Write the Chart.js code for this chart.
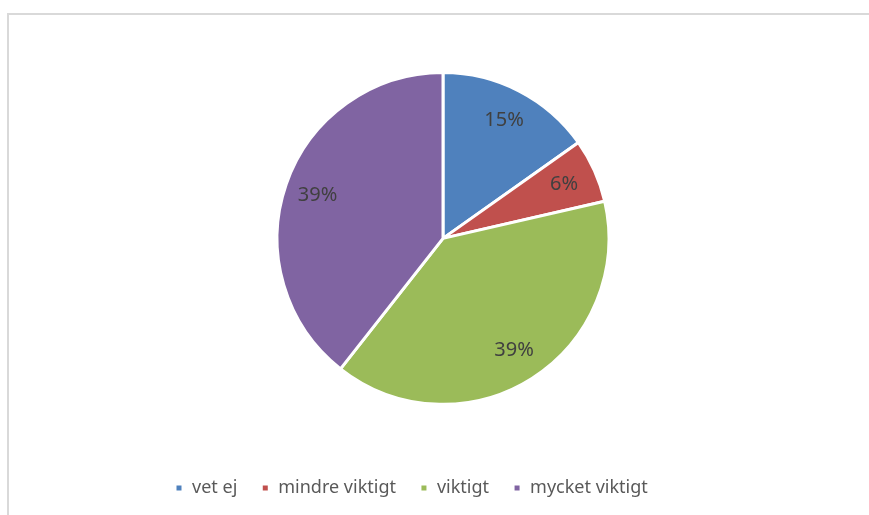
<!DOCTYPE html>
<html>
<head>
<meta charset="utf-8">
<script src="https://cdn.jsdelivr.net/npm/chart.js@4"></script>
<style>
  html, body { margin: 0; padding: 0; background: #fff; }
  .wrap { position: relative; width: 869px; height: 515px; overflow: hidden; }
  .frame { position: absolute; left: 7px; top: 13px; width: 900px; height: 600px;
           border-top: 2px solid #d9d9d9; border-left: 2px solid #d9d9d9; }
  canvas { position: absolute; left: 0; top: 0; }
</style>
</head>
<body>
<div class="wrap">
  <div class="frame"></div>
  <canvas id="pie" width="869" height="515"></canvas>
</div>
<script>
const categories = ['vet ej', 'mindre viktigt', 'viktigt', 'mycket viktigt'];
const shares = [15.2, 6.2, 39.2, 39.4];
const shareLabels = ['15%', '6%', '39%', '39%'];
const colors = ['#4f81bd', '#c0504d', '#9bbb59', '#8064a2'];

// percent labels inside each slice
const sliceLabels = {
  id: 'sliceLabels',
  afterDatasetsDraw(chart) {
    const ctx = chart.ctx;
    const arcs = chart.getDatasetMeta(0).data;
    ctx.save();
    ctx.font = '20px "Noto Sans", sans-serif';
    ctx.fillStyle = '#404040';
    ctx.textAlign = 'center';
    ctx.textBaseline = 'middle';
    arcs.forEach((arc, i) => {
      const mid = (arc.startAngle + arc.endAngle) / 2;
      const r = arc.outerRadius * 0.8;
      ctx.fillText(shareLabels[i], arc.x + Math.cos(mid) * r, arc.y + Math.sin(mid) * r);
    });
    ctx.restore();
  }
};

new Chart(document.getElementById('pie'), {
  type: 'pie',
  data: {
    labels: categories,
    datasets: [{
      data: shares,
      backgroundColor: colors,
      borderColor: '#ffffff',
      borderWidth: 3,
    }],
  },
  options: {
    responsive: false,
    devicePixelRatio: 1,
    animation: false,
    layout: { padding: { top: 71, left: 151, right: 134, bottom: 8 } },
    plugins: {
      tooltip: { enabled: false },
      legend: {
        position: 'bottom',
        align: 'start',
        // empty title only adds space between pie and legend row
        title: { display: true, text: ' ', font: { size: 1 }, padding: { top: 0, bottom: 48 } },
        labels: {
          color: '#595959',
          font: { family: '"Noto Sans", sans-serif', size: 18 },
          boxWidth: 8,
          boxHeight: 8,
          padding: 24,
        },
      },
    },
  },
  plugins: [sliceLabels],
});
</script>
</body>
</html>
